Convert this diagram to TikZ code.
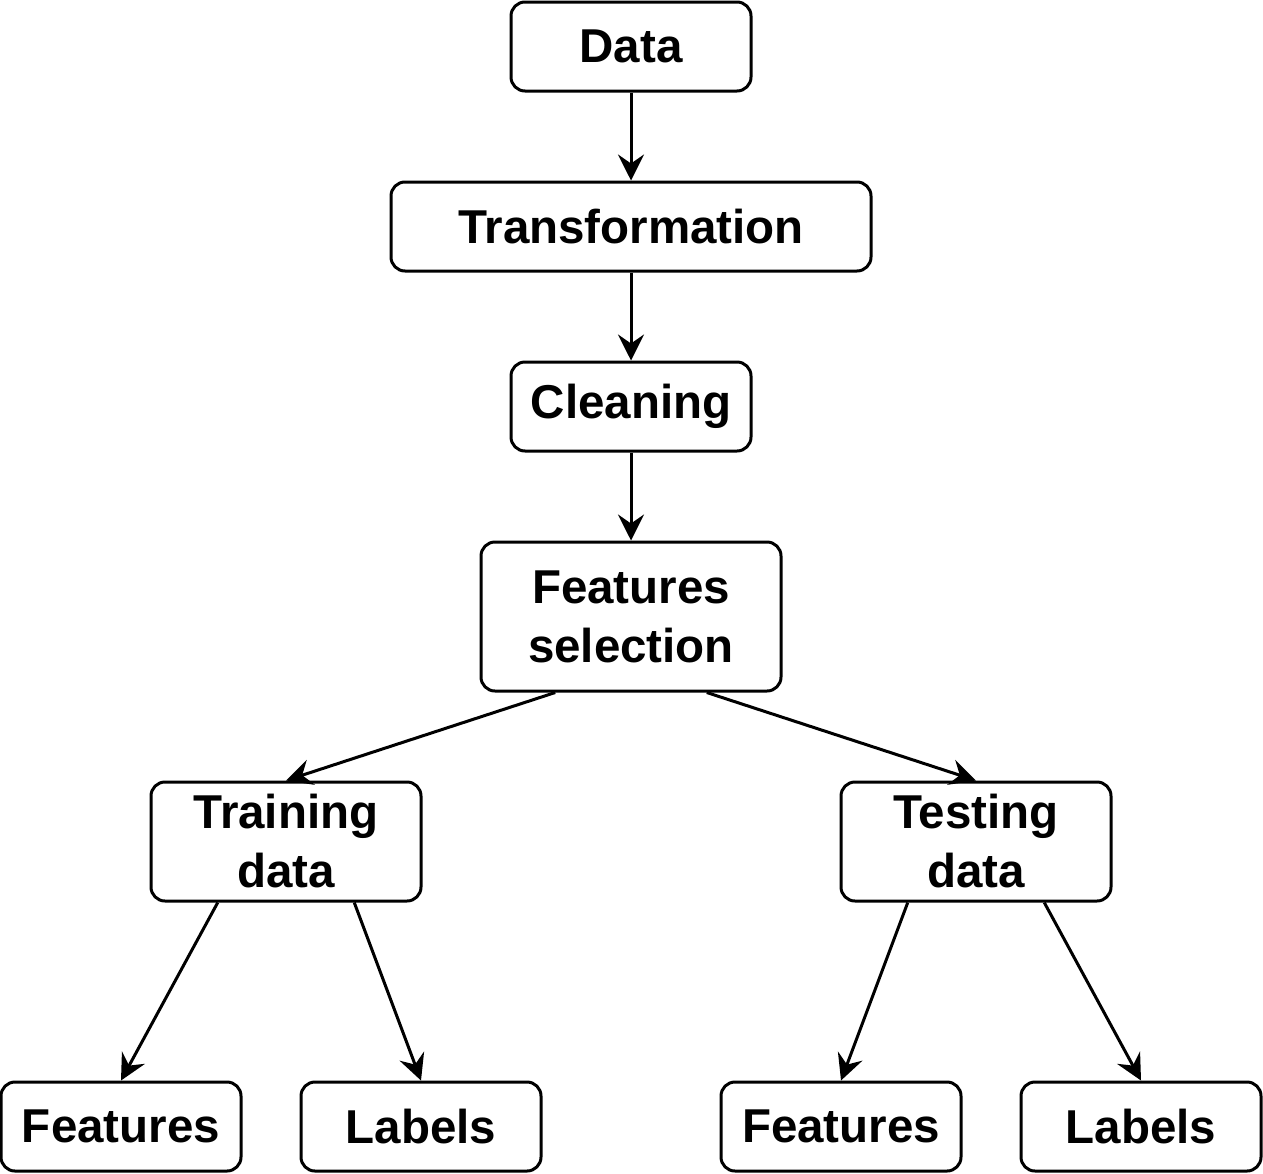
\documentclass[tikz,border=0pt]{standalone}
\usepackage{fontspec}
\setmainfont{Liberation Sans}
\usetikzlibrary{arrows.meta,calc}
\begin{document}
\begin{tikzpicture}[x=1pt,y=-1pt,
  box/.style={draw=black,line width=3pt,rounded corners=14pt,fill=white,
    inner sep=0pt,align=center,font=\fontsize{47.5}{59}\selectfont\bfseries},
  arr/.style={line width=3pt,-{Stealth[length=26pt,width=26pt,inset=9pt]}}]
\useasboundingbox (0,0) rectangle (1263,1173);
\node[box,minimum width=240pt,minimum height=89pt] (data) at (631,46.5) {Data};
\node[box,minimum width=480pt,minimum height=89pt] (trans) at (631,226.5) {Transformation};
\node[box,minimum width=240pt,minimum height=89pt] (clean) at (631,406.5) {Cleaning};
\node[box,minimum width=300pt,minimum height=149pt] (fs) at (631,616.5) {Features\\selection};
\node[box,minimum width=270pt,minimum height=119pt] (tr) at (286,841.5) {Training\\data};
\node[box,minimum width=270pt,minimum height=119pt] (te) at (976,841.5) {Testing\\data};
\node[box,minimum width=240pt,minimum height=89pt] (f1) at (121,1126.5) {Features};
\node[box,minimum width=240pt,minimum height=89pt] (l1) at (421,1126.5) {Labels};
\node[box,minimum width=240pt,minimum height=89pt] (f2) at (841,1126.5) {Features};
\node[box,minimum width=240pt,minimum height=89pt] (l2) at (1141,1126.5) {Labels};
\draw[arr] (data.south) -- (trans.north);
\draw[arr] (trans.south) -- (clean.north);
\draw[arr] (clean.south) -- (fs.north);
\draw[arr] ($(fs.south west)!.25!(fs.south east)$) -- (tr.north);
\draw[arr] ($(fs.south west)!.75!(fs.south east)$) -- (te.north);
\draw[arr] ($(tr.south west)!.25!(tr.south east)$) -- (f1.north);
\draw[arr] ($(tr.south west)!.75!(tr.south east)$) -- (l1.north);
\draw[arr] ($(te.south west)!.25!(te.south east)$) -- (f2.north);
\draw[arr] ($(te.south west)!.75!(te.south east)$) -- (l2.north);
\end{tikzpicture}
\end{document}
